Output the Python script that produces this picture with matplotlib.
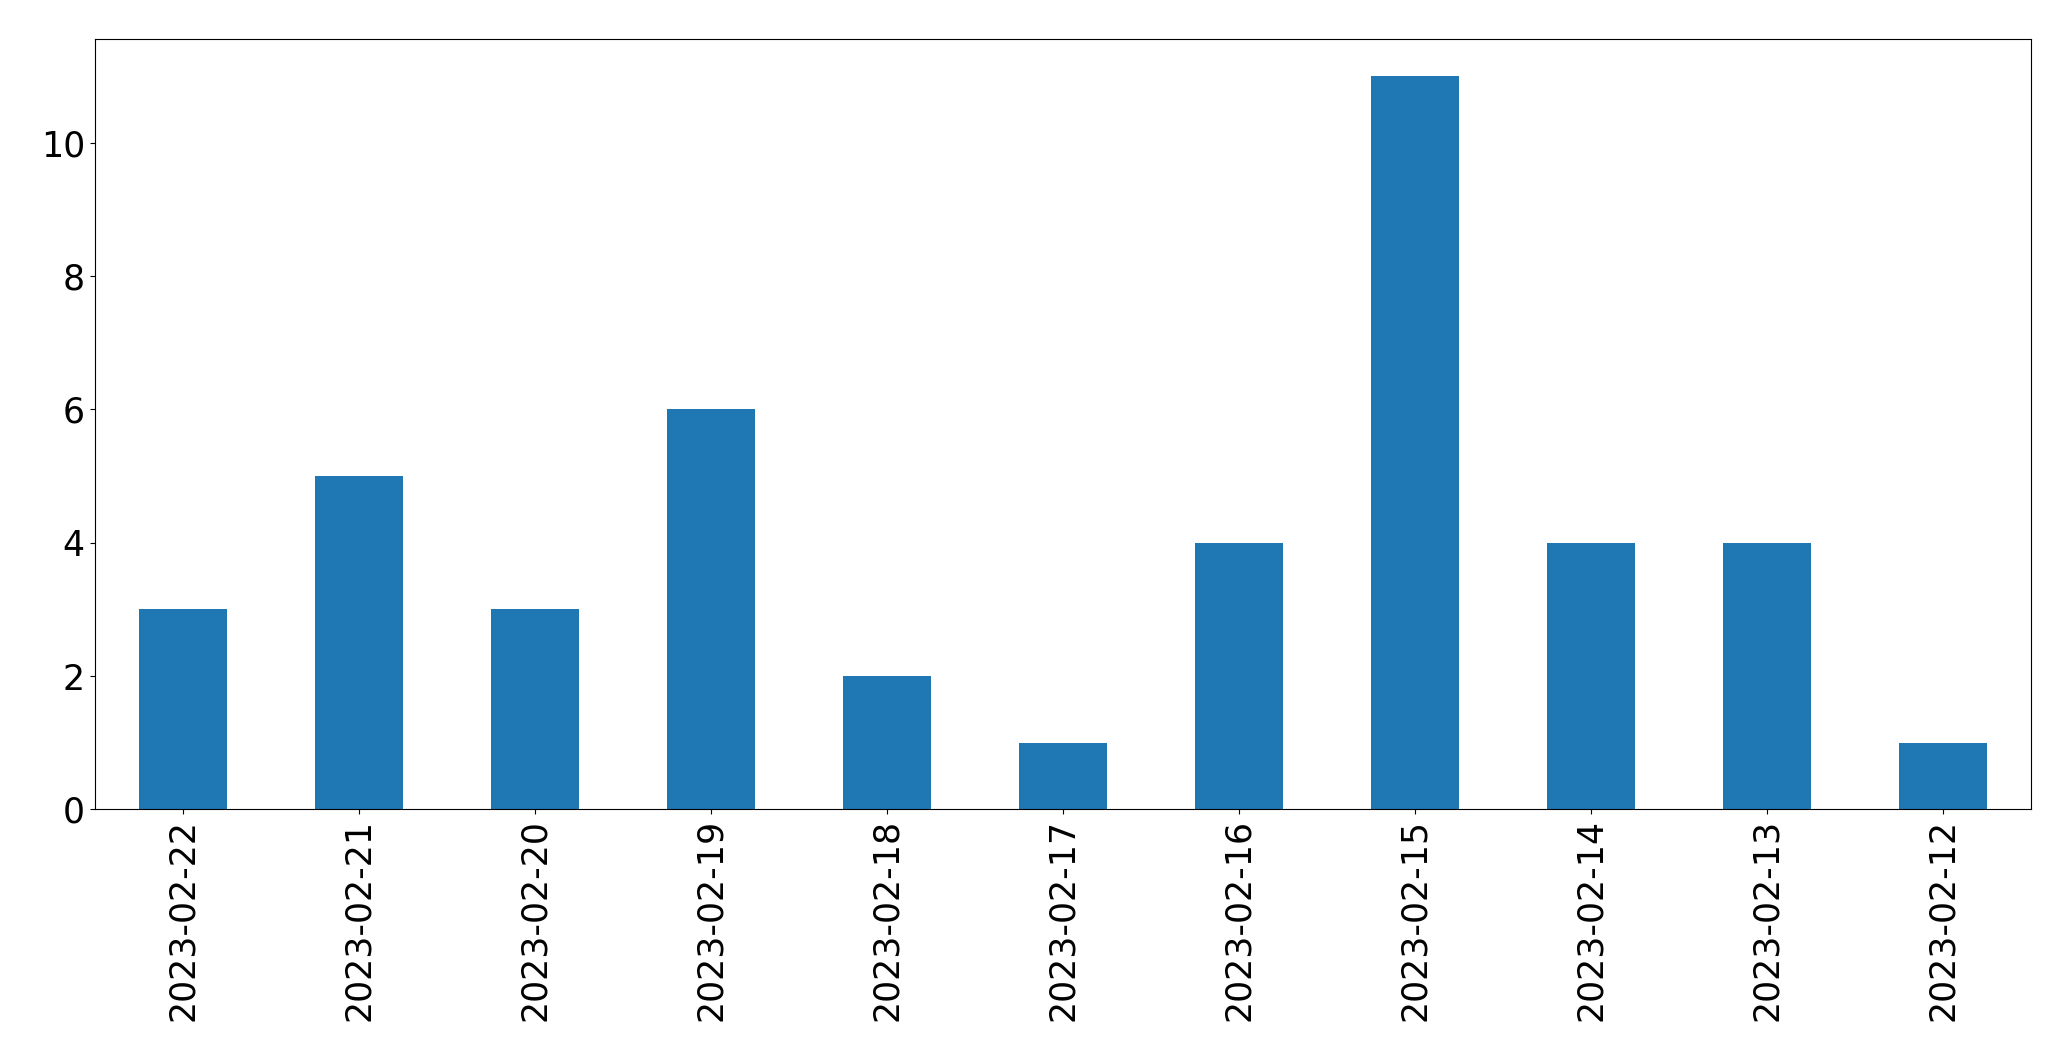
import matplotlib
matplotlib.use("Agg")
import matplotlib.pyplot as plt
import pandas as pd

dates = ["2023-02-22", "2023-02-21", "2023-02-20", "2023-02-19", "2023-02-18",
         "2023-02-17", "2023-02-16", "2023-02-15", "2023-02-14", "2023-02-13",
         "2023-02-12"]
counts = [3, 5, 3, 6, 2, 1, 4, 11, 4, 4, 1]

s = pd.Series(counts, index=dates)
fig = plt.figure(figsize=(20.7105, 10.6105), dpi=100)
ax = fig.add_axes([0.0457, 0.2372, 0.9808 - 0.0457, 0.963 - 0.2372])
s.plot(kind="bar", ax=ax, color="#1f77b4", width=0.5)
ax.tick_params(axis="both", labelsize=25)
ax.set_xticklabels(dates, rotation=90)
fig.savefig("out.png", dpi=100)
